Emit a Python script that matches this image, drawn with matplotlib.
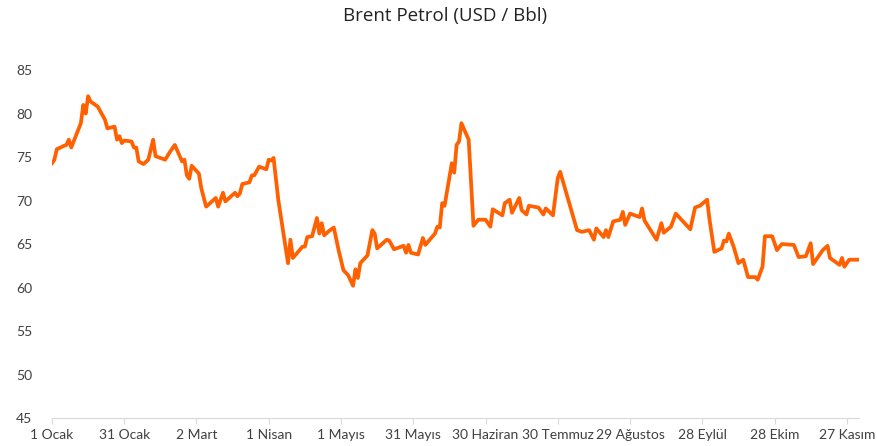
import matplotlib.pyplot as plt

# day offsets from 1 Ocak 2025 and Brent price (USD/bbl)
days = [0, 1, 2, 5, 6, 7, 8, 12, 13, 14, 15, 16, 19, 22, 23, 26, 27, 28, 29, 30,
        33, 34, 35, 36, 38, 40, 42, 43, 47, 49, 51, 54, 55, 56, 57, 58, 61, 62, 64, 68,
        69, 71, 72, 76, 77, 78, 79, 82, 83, 84, 86, 89, 90, 91, 92, 94, 98, 99, 100, 104,
        105, 106, 108, 110, 111, 112, 113, 115, 117, 119, 121, 123, 125, 126, 127, 128, 131, 133, 134, 135,
        139, 140, 142, 146, 147, 148, 149, 152, 154, 155, 159, 160, 161, 162, 163, 166, 167, 168, 169, 170,
        173, 175, 177, 180, 182, 183, 187, 188, 190, 191, 194, 195, 197, 198, 202, 204, 205, 208, 210, 211,
        218, 220, 223, 225, 226, 229, 230, 231, 233, 236, 237, 238, 240, 244, 245, 246, 251, 253, 254, 257,
        259, 262, 265, 267, 269, 272, 273, 275, 278, 279, 280, 281, 283, 285, 287, 289, 292, 293, 295, 296,
        299, 301, 303, 308, 310, 313, 315, 316, 320, 322, 323, 327, 328, 329, 331, 335]
prices = [74.3, 74.7, 75.9, 76.3, 76.4, 77.0, 76.1, 78.9, 81.0, 80.0, 82.0, 81.4, 80.8, 79.3, 78.3, 78.5, 77.0, 77.4, 76.6, 76.9,
          76.8, 76.1, 76.1, 74.5, 74.2, 74.7, 77.0, 75.1, 74.7, 75.6, 76.4, 74.5, 74.7, 72.9, 72.5, 74.0, 73.1, 71.4, 69.3, 70.3,
          69.3, 70.9, 69.9, 70.9, 70.5, 70.8, 71.9, 72.1, 72.9, 72.9, 73.9, 73.6, 74.7, 74.6, 74.9, 70.0, 62.8, 65.5, 63.4, 64.7,
          64.7, 65.8, 65.9, 68.0, 66.2, 67.4, 66.0, 66.5, 66.9, 64.3, 62.0, 61.4, 60.2, 62.1, 61.1, 62.8, 63.7, 66.6, 66.2, 64.5,
          65.5, 65.4, 64.4, 64.8, 64.0, 64.9, 64.0, 63.8, 65.7, 64.9, 66.2, 67.0, 66.9, 69.7, 69.4, 74.3, 73.2, 76.4, 76.8, 78.9,
          77.0, 67.1, 67.8, 67.8, 67.0, 69.0, 68.3, 69.7, 70.1, 68.6, 70.3, 68.9, 68.4, 69.4, 69.2, 68.4, 69.1, 68.3, 72.6, 73.3,
          66.6, 66.4, 66.6, 65.5, 66.8, 65.8, 66.6, 65.8, 67.6, 67.8, 68.7, 67.2, 68.5, 68.1, 69.1, 67.7, 65.5, 67.4, 66.3, 67.0,
          68.5, 67.6, 66.7, 69.2, 69.4, 70.1, 67.8, 64.1, 64.5, 65.4, 65.3, 66.2, 64.7, 62.8, 63.2, 61.2, 61.2, 60.9, 62.4, 65.9,
          65.9, 64.3, 65.0, 64.9, 63.5, 63.6, 65.1, 62.7, 64.3, 64.8, 63.4, 62.6, 63.4, 62.4, 63.2, 63.2]

tick_days = [0, 30, 60, 90, 120, 150, 180, 210, 240, 270, 300, 330]
tick_labels = ['1 Ocak', '31 Ocak', '2 Mart', '1 Nisan', '1 Mayıs', '31 Mayıs',
               '30 Haziran', '30 Temmuz', '29 Ağustos', '28 Eylül', '28 Ekim', '27 Kasım']
y_ticks = [45, 50, 55, 60, 65, 70, 75, 80, 85]

plt.rcParams['font.family'] = ['Lato', 'DejaVu Sans']

fig = plt.figure(figsize=(8.78, 4.46), dpi=100)
ax = fig.add_axes([0.0592, 0.0628, 0.919, 0.78])

ax.plot(days, prices, color='#FF6000', linewidth=2.7, solid_joinstyle='round')

ax.set_xlim(0, 335)
ax.set_ylim(45, 85)
ax.set_xticks(tick_days)
ax.set_xticklabels(tick_labels)
ax.set_yticks(y_ticks)

for s in ['top', 'right', 'left']:
    ax.spines[s].set_visible(False)
ax.spines['bottom'].set_color('#D9D9D9')
ax.spines['bottom'].set_linewidth(0.8)

ax.tick_params(axis='x', colors='#D9D9D9', length=4, width=0.8, labelcolor='#404040',
               labelsize=10, pad=4)
ax.tick_params(axis='y', length=0, labelcolor='#404040', labelsize=10, pad=14)

fig.suptitle('Brent Petrol (USD / Bbl)', x=0.507, y=0.985, fontsize=13.5,
             color='#222222', family=['Open Sans', 'DejaVu Sans'])

fig.savefig('out.png', dpi=100)
